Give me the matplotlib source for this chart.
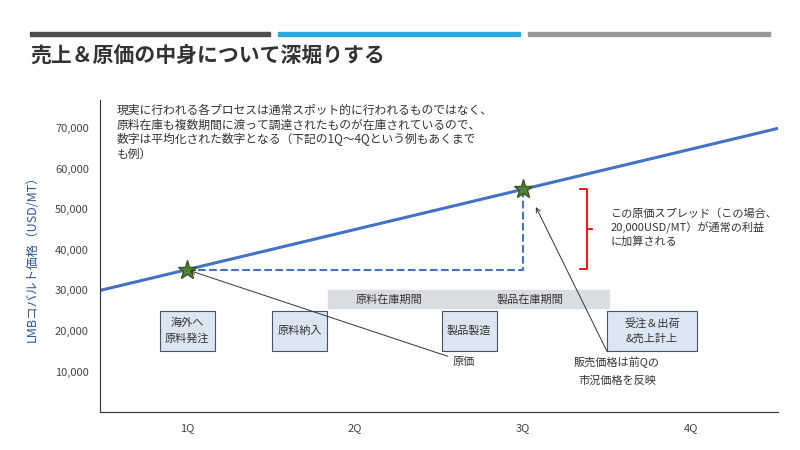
import matplotlib.pyplot as plt
from matplotlib.patches import Rectangle

plt.rcParams['font.family'] = ['Noto Sans CJK JP', 'DejaVu Sans']

quarters = [1, 2, 3, 4]
quarter_labels = ['1Q', '2Q', '3Q', '4Q']
yticks = [10000, 20000, 30000, 40000, 50000, 60000, 70000]
trend_x = [0.48, 4.52]
trend_y = [30000, 70000]
cost_q, cost_price = 1, 35100
sale_q, sale_price = 3, 55000
boxes = [(1.0, '海外へ\n原料発注'), (1.67, '原料納入'), (2.68, '製品製造'), (3.77, '受注＆出荷\n&売上計上')]

fig = plt.figure(figsize=(8, 4.5), dpi=100)

# header bars
for x0, x1, c in [(30, 270, '#4d4d4d'), (278, 520, '#29abe2'), (528, 770, '#999999')]:
    fig.patches.append(Rectangle((x0 / 800, 1 - 36 / 450), (x1 - x0) / 800, 4 / 450,
                                 transform=fig.transFigure, color=c))
fig.text(30 / 800, 1 - 55 / 450, '売上＆原価の中身について深堀りする', fontsize=15,
         fontweight='bold', color='#333333', va='center')

ax = fig.add_axes([100 / 800, 1 - 412 / 450, 678 / 800, 312 / 450])
ax.set_xlim(0.48, 4.52)
ax.set_ylim(0, 77000)
for s in ['top', 'right']:
    ax.spines[s].set_visible(False)
ax.spines['left'].set_color('#333333')
ax.spines['bottom'].set_color('#333333')
ax.set_xticks(quarters)
ax.set_xticklabels(quarter_labels, fontsize=8, color='#444444')
ax.set_yticks(yticks)
ax.set_yticklabels([f'{v:,}' for v in yticks], fontsize=8, color='#444444')
ax.tick_params(length=0, pad=8)
ax.set_ylabel('LMBコバルト価格（USD/MT）', fontsize=9, color='#2e5597', labelpad=12)

ax.plot(trend_x, trend_y, color='#4472c4', lw=2.2)
ax.plot([cost_q, sale_q, sale_q], [cost_price, cost_price, sale_price],
        color='#4472c4', lw=1.5, ls='--')
ax.plot([cost_q, sale_q], [cost_price, sale_price], ls='none', marker='*',
        ms=14, color='#548235', mec='#375623')

# stock period band
ax.add_patch(Rectangle((1.84, 25700), 1.67, 4300, color='#d9dde2', zorder=1))
ax.text(2.2, 27800, '原料在庫期間', fontsize=8, ha='center', va='center', color='#333333')
ax.text(3.04, 27800, '製品在庫期間', fontsize=8, ha='center', va='center', color='#333333')

for cx, lab in boxes:
    w = 0.54 if '受注' in lab else 0.33
    ax.add_patch(Rectangle((cx - w / 2, 15000), w, 10000, facecolor='#dce6f2',
                           edgecolor='#44546a', lw=0.8, zorder=2))
    ax.text(cx, 20000, lab, fontsize=8, ha='center', va='center', color='#333333',
            linespacing=1.6, zorder=3)

ax.annotate('原価', xy=(cost_q, cost_price), xytext=(2.65, 12400), fontsize=8,
            ha='center', va='center', color='#333333',
            arrowprops=dict(arrowstyle='->', color='#333333', lw=0.7))
ax.annotate('販売価格は前Qの\n市況価格を反映', xy=(3.07, 51200), xytext=(3.56, 10000),
            fontsize=8, ha='center', va='center', color='#333333', linespacing=1.8,
            arrowprops=dict(arrowstyle='->', color='#333333', lw=0.7))

# red bracket
ax.plot([3.34, 3.38, 3.38, 3.34], [55000, 55000, 35300, 35300], color='red', lw=1.3)
ax.plot([3.38, 3.41], [45150, 45150], color='red', lw=1.3)
ax.text(3.52, 45500, 'この原価スプレッド（この場合、\n20,000USD/MT）が通常の利益\nに加算される',
        fontsize=8, va='center', color='#333333', linespacing=1.3)

ax.text(0.58, 76000, '現実に行われる各プロセスは通常スポット的に行われるものではなく、\n'
        '原料在庫も複数期間に渡って調達されたものが在庫されているので、\n'
        '数字は平均化された数字となる（下記の1Q～4Qという例もあくまで\nも例）',
        fontsize=8.5, va='top', color='#333333', linespacing=1.15)

fig.savefig('out.png', dpi=100)
